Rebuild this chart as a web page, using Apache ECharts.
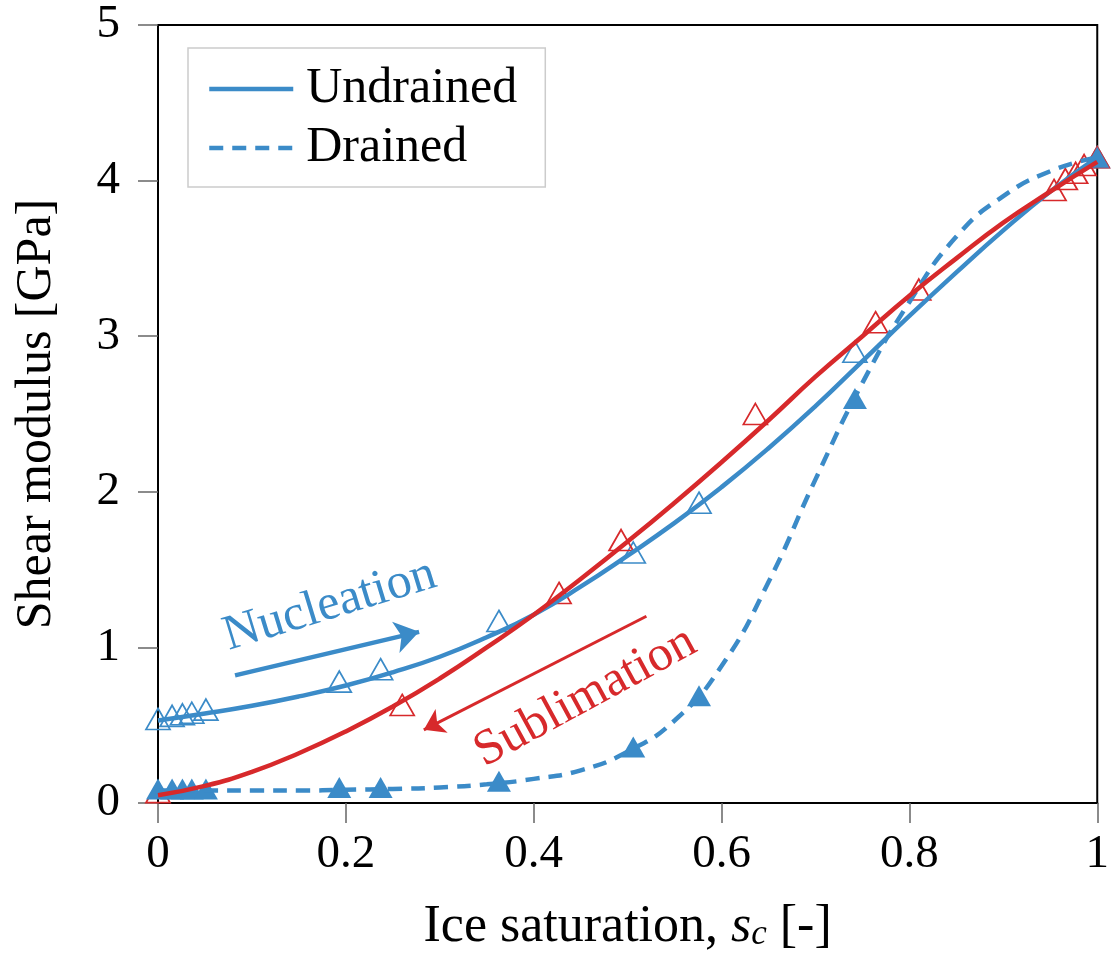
<!DOCTYPE html>
<html><head><meta charset="utf-8">
<script src="https://cdn.jsdelivr.net/npm/echarts@6/dist/echarts.min.js"></script>
<style>html,body{margin:0;padding:0;background:#fff}#c{width:1112px;height:958px}</style>
</head><body><div id="c"></div>
<script>
// ---- data ----
const xTicks = [0, 0.2, 0.4, 0.6, 0.8, 1];
const yTicks = [0, 1, 2, 3, 4, 5];
const fitX = [0, 0.05, 0.1, 0.15, 0.2, 0.25, 0.3, 0.35, 0.4, 0.45, 0.5, 0.55, 0.6, 0.65, 0.7, 0.75, 0.8, 0.85, 0.9, 0.95, 1.0];
const undrainedFit = [0.53, 0.575, 0.625, 0.685, 0.755, 0.84, 0.94, 1.065, 1.21, 1.39, 1.59, 1.80, 2.03, 2.28, 2.55, 2.84, 3.13, 3.41, 3.68, 3.93, 4.15];
const drainedFit = [0.08, 0.08, 0.08, 0.08, 0.085, 0.09, 0.10, 0.12, 0.155, 0.21, 0.33, 0.53, 0.88, 1.42, 2.08, 2.70, 3.22, 3.64, 3.90, 4.06, 4.15];
const sublimationFit = [0.05, 0.11, 0.20, 0.32, 0.46, 0.62, 0.80, 1.00, 1.21, 1.44, 1.68, 1.93, 2.19, 2.46, 2.74, 3.00, 3.26, 3.50, 3.73, 3.93, 4.12];
const freezeX = [0, 0.015, 0.026, 0.036, 0.051, 0.193, 0.237, 0.363, 0.506, 0.576, 0.742, 1.0];
const undrainedData = [0.54, 0.56, 0.57, 0.58, 0.60, 0.78, 0.86, 1.17, 1.61, 1.93, 2.90, 4.15];
const drainedData = [0.09, 0.09, 0.09, 0.09, 0.09, 0.10, 0.10, 0.14, 0.36, 0.69, 2.60, 4.15];
const sublimationX = [0, 0.26, 0.427, 0.493, 0.636, 0.764, 0.81, 0.954, 0.966, 0.977, 0.986, 1.0];
const sublimationData = [0.07, 0.63, 1.35, 1.69, 2.50, 3.09, 3.30, 3.94, 4.01, 4.05, 4.10, 4.15];
const nucleationArrow = [[0.082, 0.82], [0.278, 1.10]];
const sublimationArrow = [[0.52, 1.20], [0.283, 0.47]];
const nucleationLabel = [0.183, 1.27];
const sublimationLabel = [0.455, 0.68];

// ---- styles ----
const BLUE = '#3b8bc8';
const RED = '#d7292b';
const FONT = '"Liberation Serif", "Times New Roman", serif';
const zip = (xs, ys) => xs.map((x, i) => [x, ys[i]]);

const chart = echarts.init(document.getElementById('c'), null, {renderer: 'canvas'});
chart.setOption({
  animation: false,
  backgroundColor: '#fff',
  textStyle: {fontFamily: FONT},
  grid: {left: 158, right: 12, top: 25, bottom: 153, show: true, borderColor: '#000', borderWidth: 2},
  legend: {
    data: [
      {name: 'Undrained'},
      {name: 'Drained'}
    ],
    orient: 'vertical', left: 188, top: 48,
    backgroundColor: '#fff', borderColor: '#cccccc', borderWidth: 1.5, borderRadius: 0,
    padding: [16, 28, 14, 19],
    itemWidth: 84, itemHeight: 20, itemGap: 9,
    selectedMode: false,
    itemStyle: {opacity: 0},
    lineStyle: {width: 4.5, color: BLUE},
    textStyle: {fontFamily: FONT, fontSize: 50, color: '#000', lineHeight: 50, padding: [0, 0, 0, 8]}
  },
  xAxis: {
    type: 'value', min: 0, max: 1, interval: 0.2,
    name: '{n|Ice saturation, }{i|s}{s|c}{n| [-]}',
    nameLocation: 'middle', nameGap: 98,
    nameTextStyle: {rich: {
      n: {fontFamily: FONT, fontSize: 52, color: '#000'},
      i: {fontFamily: FONT, fontSize: 52, fontStyle: 'italic', color: '#000'},
      s: {fontFamily: FONT, fontSize: 35, fontStyle: 'italic', color: '#000', padding: [16, 0, 0, 0]}
    }},
    axisLine: {show: true, onZero: false, lineStyle: {color: '#000', width: 2}},
    axisTick: {show: true, inside: false, length: 20, lineStyle: {color: '#666', width: 1.5}},
    axisLabel: {fontFamily: FONT, fontSize: 47, color: '#000', margin: 28,
      formatter: v => String(+v.toFixed(1))},
    splitLine: {show: false}
  },
  yAxis: {
    type: 'value', min: 0, max: 5, interval: 1,
    name: 'Shear modulus [GPa]',
    nameLocation: 'middle', nameGap: 96,
    nameTextStyle: {fontFamily: FONT, fontSize: 50, color: '#000'},
    axisLine: {show: true, onZero: false, lineStyle: {color: '#000', width: 2}},
    axisTick: {show: true, inside: false, length: 20, lineStyle: {color: '#666', width: 1.5}},
    axisLabel: {fontFamily: FONT, fontSize: 47, color: '#000', margin: 38},
    splitLine: {show: false}
  },
  series: [
    {name: 'Undrained data', type: 'scatter', data: zip(freezeX, undrainedData), symbol: 'triangle', symbolSize: [24, 21],
      itemStyle: {color: 'rgba(0,0,0,0)', borderColor: BLUE, borderWidth: 1.7, opacity: 1}, clip: false, z: 2, silent: true},
    {name: 'Sublimation data', type: 'scatter', data: zip(sublimationX, sublimationData), symbol: 'triangle', symbolSize: [24, 21],
      itemStyle: {color: 'rgba(0,0,0,0)', borderColor: RED, borderWidth: 1.7, opacity: 1}, clip: false, z: 2, silent: true},
    {name: 'Drained data', type: 'scatter', data: zip(freezeX, drainedData), symbol: 'triangle', symbolSize: [24, 21],
      itemStyle: {color: BLUE, opacity: 1}, clip: false, z: 2, silent: true},
    {name: 'Undrained', type: 'line', data: zip(fitX, undrainedFit), smooth: 0.5, showSymbol: false, symbol: 'none',
      lineStyle: {color: BLUE, width: 4.5}, itemStyle: {color: BLUE}, z: 3, silent: true},
    {name: 'Drained', type: 'line', data: zip(fitX, drainedFit), smooth: 0.5, showSymbol: false, symbol: 'none',
      lineStyle: {color: BLUE, width: 4.5, type: [14, 9]}, itemStyle: {color: BLUE}, z: 3, silent: true},
    {name: 'Sublimation', type: 'line', data: zip(fitX, sublimationFit), smooth: 0.5, showSymbol: false, symbol: 'none',
      lineStyle: {color: RED, width: 4.5}, itemStyle: {color: RED}, z: 4, silent: true},
    {name: 'Arrows', type: 'lines', coordinateSystem: 'cartesian2d', silent: true, z: 5,
      symbol: ['none', 'arrow'],
      data: [
        {coords: nucleationArrow, symbolSize: 24, lineStyle: {color: BLUE, width: 4.5}},
        {coords: sublimationArrow, symbolSize: 20, lineStyle: {color: RED, width: 3}}
      ],
      lineStyle: {opacity: 1, curveness: 0}},
    {name: 'Labels', type: 'scatter', silent: true, z: 6, symbolSize: 0, clip: false,
      itemStyle: {opacity: 1},
      data: [
        {value: nucleationLabel, label: {show: true, position: 'inside', formatter: 'Nucleation', rotate: 17, color: BLUE, opacity: 1, fontSize: 50, fontFamily: FONT}},
        {value: sublimationLabel, label: {show: true, position: 'inside', formatter: 'Sublimation', rotate: 28.5, color: RED, opacity: 1, fontSize: 50, fontFamily: FONT}}
      ]}
  ]
});
</script>
</body></html>
